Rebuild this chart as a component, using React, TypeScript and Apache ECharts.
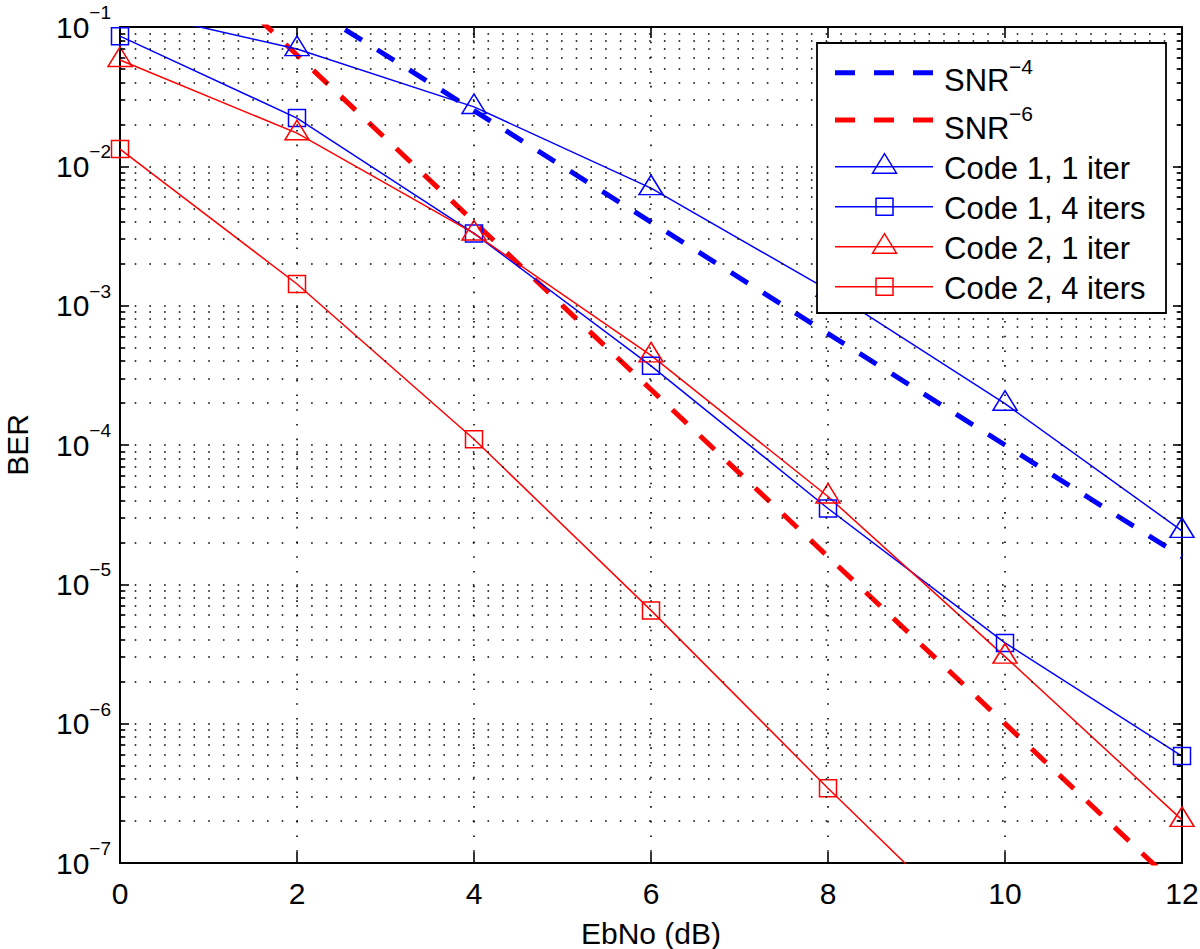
import React, { useEffect, useRef } from 'react';
import * as echarts from 'echarts';

// ---------- data ----------
const ebno = [0, 2, 4, 6, 8, 10, 12];
const snrMinus4 = [1.0, 0.158, 0.0251, 0.00398, 6.3e-4, 1.0e-4, 1.58e-5];
const snrMinus6 = [1.0, 0.063, 0.004, 2.5e-4, 1.58e-5, 1.0e-6, 6.3e-8];
const code1Iter1 = [0.135, 0.0695, 0.0267, 0.00698, 0.0013, 1.98e-4, 2.42e-5];
const code1Iter4 = [0.086, 0.0222, 0.0033, 3.7e-4, 3.5e-5, 3.8e-6, 5.85e-7];
const code2Iter1 = [0.058, 0.0173, 0.0033, 4.4e-4, 4.27e-5, 3.03e-6, 2.04e-7];
const code2Iter4 = [0.0133, 1.43e-3, 1.1e-4, 6.5e-6, 3.44e-7, 2.0e-8, 1.2e-9];

const seriesNames = ['SNR', 'SNR', 'Code 1, 1 iter', 'Code 1, 4 iters', 'Code 2, 1 iter', 'Code 2, 4 iters'];
const seriesSups = ['−4', '−6', '', '', '', ''];

const xTicks = [0, 2, 4, 6, 8, 10, 12];
const yExponents = [-7, -6, -5, -4, -3, -2, -1];
const minorMultipliers = [2, 3, 4, 5, 6, 7, 8, 9];

const FONT = '"Liberation Sans", Arial, Helvetica, sans-serif';
const BLUE = '#0000ff';
const RED = '#ff0000';

export default function App() {
  const ref = useRef<HTMLDivElement>(null);

  useEffect(() => {
    const chart = echarts.init(ref.current!, null, { renderer: 'svg' });

    const minorValues: number[] = [];
    yExponents.slice(0, -1).forEach((e) =>
      minorMultipliers.forEach((m) => minorValues.push(m * Math.pow(10, e)))
    );
    const pairs = (ys: number[]) => ebno.map((x, i) => [x, ys[i]]);
    const dotted = { color: '#000', width: 1.6, type: [1.6, 13.1] as any };

    const dashedSeries = (name: string, ys: number[], color: string) => ({
      name,
      type: 'line',
      data: pairs(ys),
      clip: true,
      symbol: 'none',
      silent: true,
      lineStyle: { color, width: 5, type: [20, 18] },
      z: 3,
    });
    const markedSeries = (name: string, ys: number[], color: string, tri: boolean) => ({
      name,
      type: 'line',
      data: pairs(ys),
      clip: true,
      silent: true,
      symbol: tri ? 'triangle' : 'rect',
      symbolSize: tri ? [24, 19.5] : 17,
      symbolOffset: tri ? [0, -3.2] : [0, 0],
      showSymbol: true,
      showAllSymbol: true,
      lineStyle: { color, width: 1.5 },
      itemStyle: { color: 'rgba(0,0,0,0)', borderColor: color, borderWidth: 1.5 },
      z: 4,
    });

    const tickMarks: any[] = [];
    minorValues.forEach((v) => {
      tickMarks.push([{ coord: [0, v] }, { coord: [0.06, v] }]);
      tickMarks.push([{ coord: [11.94, v] }, { coord: [12, v] }]);
    });

    // legend (drawn as graphic)
    const rows = [72.7, 120, 166.7, 206.7, 246.7, 286.7];
    const legendColors = [BLUE, RED, BLUE, BLUE, RED, RED];
    const legendKinds = ['dash', 'dash', 'tri', 'sq', 'tri', 'sq'];
    const graphic: any[] = [
      {
        type: 'rect',
        z: 100,
        shape: { x: 817, y: 43, width: 349, height: 270 },
        style: { fill: '#fff', stroke: '#000', lineWidth: 1.8 },
      },
    ];
    rows.forEach((ry, i) => {
      const color = legendColors[i];
      const kind = legendKinds[i];
      graphic.push({
        type: 'line',
        z: 101,
        shape: { x1: 835, y1: ry, x2: 933, y2: ry },
        style:
          kind === 'dash'
            ? { stroke: color, lineWidth: 5, lineDash: [20, 19] }
            : { stroke: color, lineWidth: 1.5 },
      });
      if (kind === 'tri') {
        graphic.push({
          type: 'polygon',
          z: 102,
          shape: { points: [[872.5, ry + 6.5], [896.5, ry + 6.5], [884.5, ry - 13]] },
          style: { fill: 'none', stroke: color, lineWidth: 1.5 },
        });
      } else if (kind === 'sq') {
        graphic.push({
          type: 'rect',
          z: 102,
          shape: { x: 876, y: ry - 8.5, width: 17, height: 17 },
          style: { fill: 'none', stroke: color, lineWidth: 1.5 },
        });
      }
      const hasSup = seriesSups[i] !== '';
      graphic.push({
        type: 'text',
        z: 102,
        x: 944,
        y: ry + (hasSup ? 8 : 1.3),
        style: {
          text: seriesNames[i],
          fontSize: 31,
          fontFamily: FONT,
          fill: '#000',
          align: 'left',
          verticalAlign: 'middle',
        },
      });
      if (hasSup) {
        graphic.push({
          type: 'text',
          z: 102,
          x: 1009,
          y: ry - 6.5,
          style: {
            text: seriesSups[i],
            fontSize: 21,
            fontFamily: FONT,
            fill: '#000',
            align: 'left',
            verticalAlign: 'middle',
          },
        });
      }
    });

    const axisLine = { show: true, onZero: false, lineStyle: { color: '#000', width: 2 } };
    const tickStyle = { color: '#000', width: 1.6 };

    chart.setOption({
      animation: false,
      backgroundColor: '#fff',
      textStyle: { fontFamily: FONT },
      grid: {
        left: 120,
        top: 27,
        right: 18,
        bottom: 86,
        containLabel: false,
        outerBoundsMode: 'none',
      } as any,
      xAxis: [
        {
          type: 'value',
          position: 'bottom',
          min: xTicks[0],
          max: xTicks[xTicks.length - 1],
          interval: 2,
          name: 'EbNo (dB)',
          nameLocation: 'middle',
          nameGap: 55,
          nameTextStyle: { fontSize: 30, color: '#000', fontFamily: FONT },
          axisLine,
          axisTick: { show: true, inside: true, length: 11, lineStyle: tickStyle },
          axisLabel: { margin: 15, fontSize: 30, color: '#000', fontFamily: FONT },
          splitLine: { show: true, lineStyle: dotted },
        },
        {
          type: 'value',
          position: 'top',
          min: xTicks[0],
          max: xTicks[xTicks.length - 1],
          interval: 2,
          axisLine,
          axisTick: { show: true, inside: true, length: 11, lineStyle: tickStyle },
          axisLabel: { show: false },
          splitLine: { show: false },
        },
      ],
      yAxis: [
        {
          type: 'log',
          logBase: 10,
          position: 'left',
          min: Math.pow(10, yExponents[0]),
          max: Math.pow(10, yExponents[yExponents.length - 1]),
          name: 'BER',
          nameLocation: 'middle',
          nameGap: 88,
          nameTextStyle: { fontSize: 30, color: '#000', fontFamily: FONT },
          axisLine,
          axisTick: { show: true, inside: true, length: 9, lineStyle: tickStyle },
          axisLabel: {
            margin: 9,
            formatter: (v: number) => {
              const e = Math.round(Math.log10(v));
              const exp = yExponents.find((x) => x === e) ?? e;
              return `{b|10}{s|−${-exp}}`;
            },
            rich: {
              b: { fontSize: 30, fontFamily: FONT, color: '#000' },
              s: { fontSize: 19, fontFamily: FONT, color: '#000', padding: [0, 0, 29, 0] },
            },
          },
          splitLine: { show: true, lineStyle: dotted },
          minorTick: { show: false },
          minorSplitLine: { show: false },
        },
        {
          type: 'log',
          logBase: 10,
          position: 'right',
          min: Math.pow(10, yExponents[0]),
          max: Math.pow(10, yExponents[yExponents.length - 1]),
          axisLine,
          axisTick: { show: true, inside: true, length: 9, lineStyle: tickStyle },
          axisLabel: { show: false },
          splitLine: { show: false },
        },
      ],
      series: [
        {
          type: 'line',
          data: [],
          silent: true,
          z: 1,
          markLine: {
            silent: true,
            precision: 15,
            symbol: ['none', 'none'],
            label: { show: false },
            animation: false,
            emphasis: { disabled: true },
            lineStyle: dotted,
            data: minorValues.map((v) => ({ yAxis: v })),
          },
        },
        {
          type: 'line',
          data: [],
          silent: true,
          z: 1,
          markLine: {
            silent: true,
            precision: 15,
            symbol: ['none', 'none'],
            label: { show: false },
            animation: false,
            emphasis: { disabled: true },
            lineStyle: { color: '#000', width: 1.6, type: 'solid' },
            data: tickMarks,
          },
        },
        dashedSeries('SNR^-4', snrMinus4, BLUE),
        dashedSeries('SNR^-6', snrMinus6, RED),
        markedSeries(seriesNames[2], code1Iter1, BLUE, true),
        markedSeries(seriesNames[3], code1Iter4, BLUE, false),
        markedSeries(seriesNames[4], code2Iter1, RED, true),
        markedSeries(seriesNames[5], code2Iter4, RED, false),
      ],
      graphic,
    } as any);

    return () => chart.dispose();
  }, []);

  return (
    <div
      ref={ref}
      style={{ position: 'fixed', left: 0, top: 0, width: 1200, height: 949, background: '#fff' }}
    />
  );
}
